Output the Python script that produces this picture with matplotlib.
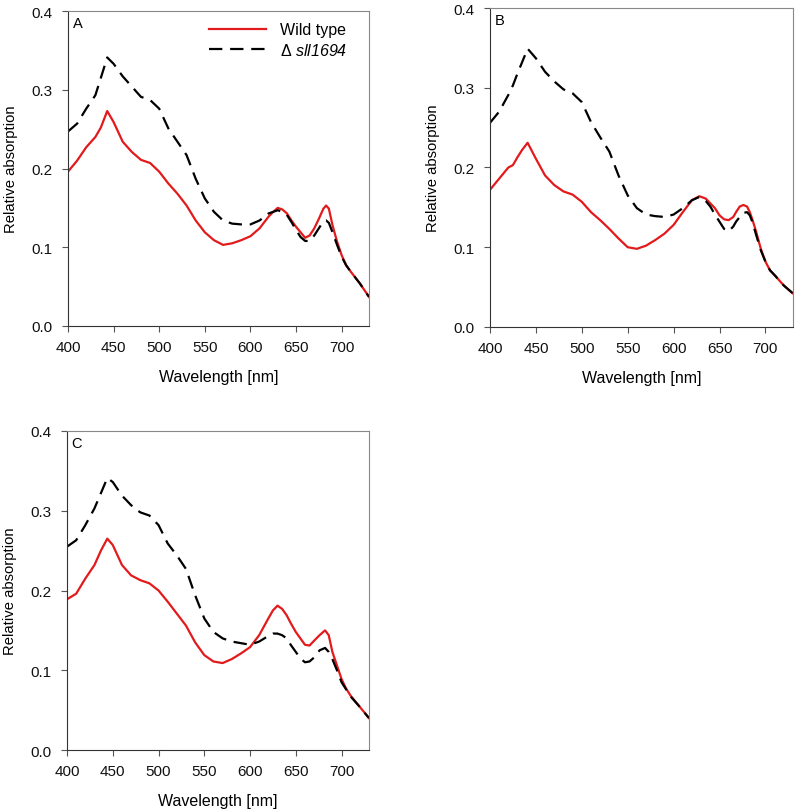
import matplotlib
matplotlib.use('Agg')
import matplotlib.pyplot as plt

plt.rcParams['font.family'] = ['Liberation Sans', 'DejaVu Sans']
plt.rcParams['mathtext.fontset'] = 'custom'
plt.rcParams['mathtext.rm'] = 'Liberation Sans'
plt.rcParams['mathtext.it'] = 'Liberation Sans:italic'
plt.rcParams['mathtext.sf'] = 'Liberation Sans:italic'

# panel A
wl_a = [400, 410, 420, 430, 436, 443, 450, 460, 470, 480, 490, 500, 510, 520, 530, 540,
        550, 560, 570, 580, 590, 600, 610,
        620, 625, 630, 635, 640, 645, 650, 655, 660, 665, 670, 675, 680, 683, 686, 690,
        695, 700, 705, 710, 720, 730]
wt_a = [0.196, 0.210, 0.227, 0.240, 0.252, 0.273, 0.259, 0.234, 0.221, 0.211, 0.207, 0.196,
        0.181, 0.168, 0.153, 0.134, 0.119, 0.109, 0.103, 0.105, 0.109, 0.114, 0.124,
        0.139, 0.145, 0.150, 0.148, 0.143, 0.134, 0.126, 0.119, 0.112, 0.115, 0.124, 0.136,
        0.149, 0.153, 0.149, 0.128, 0.107, 0.090, 0.077, 0.069, 0.054, 0.037]
mut_a = [0.247, 0.257, 0.276, 0.293, 0.315, 0.341, 0.333, 0.317, 0.304, 0.291, 0.287, 0.276,
         0.251, 0.234, 0.217, 0.187, 0.162, 0.145, 0.134, 0.130, 0.129, 0.129, 0.134,
         0.143, 0.145, 0.147, 0.145, 0.141, 0.132, 0.122, 0.113, 0.108, 0.108, 0.115, 0.124,
         0.133, 0.134, 0.131, 0.119, 0.103, 0.088, 0.077, 0.069, 0.054, 0.037]

# panel B
wl_b = [400, 410, 420, 425, 430, 435, 441, 450, 460, 470, 480, 490, 500, 510, 520, 530, 540,
        550, 560, 570, 580, 590, 600, 610,
        620, 628, 635, 640, 645, 650, 655, 660, 665, 668, 672, 676, 680, 683, 686, 690,
        695, 700, 705, 710, 720, 730]
wt_b = [0.172, 0.186, 0.200, 0.203, 0.213, 0.222, 0.231, 0.211, 0.190, 0.178, 0.170, 0.166,
        0.157, 0.144, 0.134, 0.123, 0.111, 0.100, 0.098, 0.102, 0.109, 0.117, 0.128, 0.144,
        0.159, 0.164, 0.161, 0.155, 0.149, 0.140, 0.135, 0.134, 0.138, 0.144, 0.151, 0.153,
        0.151, 0.144, 0.134, 0.119, 0.098, 0.082, 0.071, 0.065, 0.052, 0.042]
mut_b = [0.256, 0.270, 0.291, 0.303, 0.318, 0.332, 0.349, 0.337, 0.320, 0.308, 0.298, 0.293,
         0.282, 0.257, 0.238, 0.220, 0.190, 0.165, 0.149, 0.141, 0.139, 0.138, 0.141, 0.149,
         0.159, 0.163, 0.158, 0.151, 0.141, 0.132, 0.123, 0.120, 0.126, 0.132, 0.138, 0.143,
         0.144, 0.140, 0.131, 0.115, 0.096, 0.082, 0.071, 0.065, 0.052, 0.042]

# panel C
wl_c = [400, 410, 420, 430, 437, 444, 450, 460, 470, 480, 490, 500, 510, 520, 530, 540,
        550, 560, 570, 580, 590, 600, 610,
        620, 625, 630, 635, 640, 645, 650, 655, 660, 665, 670, 676, 682, 686, 690,
        695, 700, 705, 710, 720, 730]
wt_c = [0.189, 0.196, 0.215, 0.232, 0.250, 0.265, 0.257, 0.232, 0.219, 0.213, 0.209, 0.200,
        0.186, 0.171, 0.156, 0.135, 0.119, 0.111, 0.109, 0.114, 0.121, 0.129, 0.144,
        0.165, 0.175, 0.181, 0.177, 0.169, 0.158, 0.148, 0.140, 0.132, 0.131, 0.137, 0.144,
        0.150, 0.144, 0.123, 0.106, 0.089, 0.077, 0.068, 0.054, 0.040]
mut_c = [0.255, 0.263, 0.282, 0.303, 0.322, 0.341, 0.336, 0.319, 0.307, 0.298, 0.294, 0.282,
         0.259, 0.244, 0.227, 0.194, 0.165, 0.148, 0.140, 0.136, 0.134, 0.132, 0.136,
         0.143, 0.146, 0.146, 0.144, 0.140, 0.131, 0.123, 0.115, 0.110, 0.111, 0.116, 0.125,
         0.128, 0.123, 0.114, 0.100, 0.085, 0.076, 0.067, 0.054, 0.040]

panels = [('A', wl_a, wt_a, mut_a, [0.0852, 0.5973, 0.3772, 0.3879]),
          ('B', wl_b, wt_b, mut_b, [0.6140, 0.5961, 0.3797, 0.3928]),
          ('C', wl_c, wt_c, mut_c, [0.0840, 0.0751, 0.3784, 0.3929])]

fig = plt.figure(figsize=(7.98, 8.12), dpi=100)

for letter, wl, wt, mut, pos in panels:
    ax = fig.add_axes(pos)
    ax.plot(wl, wt, color='#e31a1c', lw=1.6, label='Wild type')
    ax.plot(wl, mut, color='black', lw=1.6, dashes=(6, 3.5), label=r'$\Delta\ \mathsf{sll1694}$')
    ax.set_xlim(400, 730)
    ax.set_ylim(0, 0.4)
    ax.set_xticks([400, 450, 500, 550, 600, 650, 700])
    ax.set_yticks([0.0, 0.1, 0.2, 0.3, 0.4])
    ax.set_yticklabels(['0.0', '0.1', '0.2', '0.3', '0.4'])
    ax.tick_params(direction='out', length=4, width=0.8, labelsize=11, color='#555555',
                   labelcolor='#111111')
    ax.tick_params(axis='x', pad=6)
    ax.tick_params(axis='y', pad=7)
    for s in ['left', 'bottom']:
        ax.spines[s].set_color('#333333')
        ax.spines[s].set_linewidth(0.8)
    for s in ['top', 'right']:
        ax.spines[s].set_color('#888888')
        ax.spines[s].set_linewidth(0.8)
    ax.set_xlabel('Wavelength [nm]', fontsize=11.5, labelpad=11)
    ax.set_ylabel('Relative absorption', fontsize=10.7, labelpad=10)
    ax.text(0.015, 0.985, letter, transform=ax.transAxes, fontsize=10.5, va='top', ha='left')
    if letter == 'A':
        ax.legend(loc='upper right', bbox_to_anchor=(0.975, 1.01), frameon=False, fontsize=11.5,
                  handlelength=3.6, handletextpad=0.85, labelspacing=0.3)

fig.savefig('out.png', dpi=100)
